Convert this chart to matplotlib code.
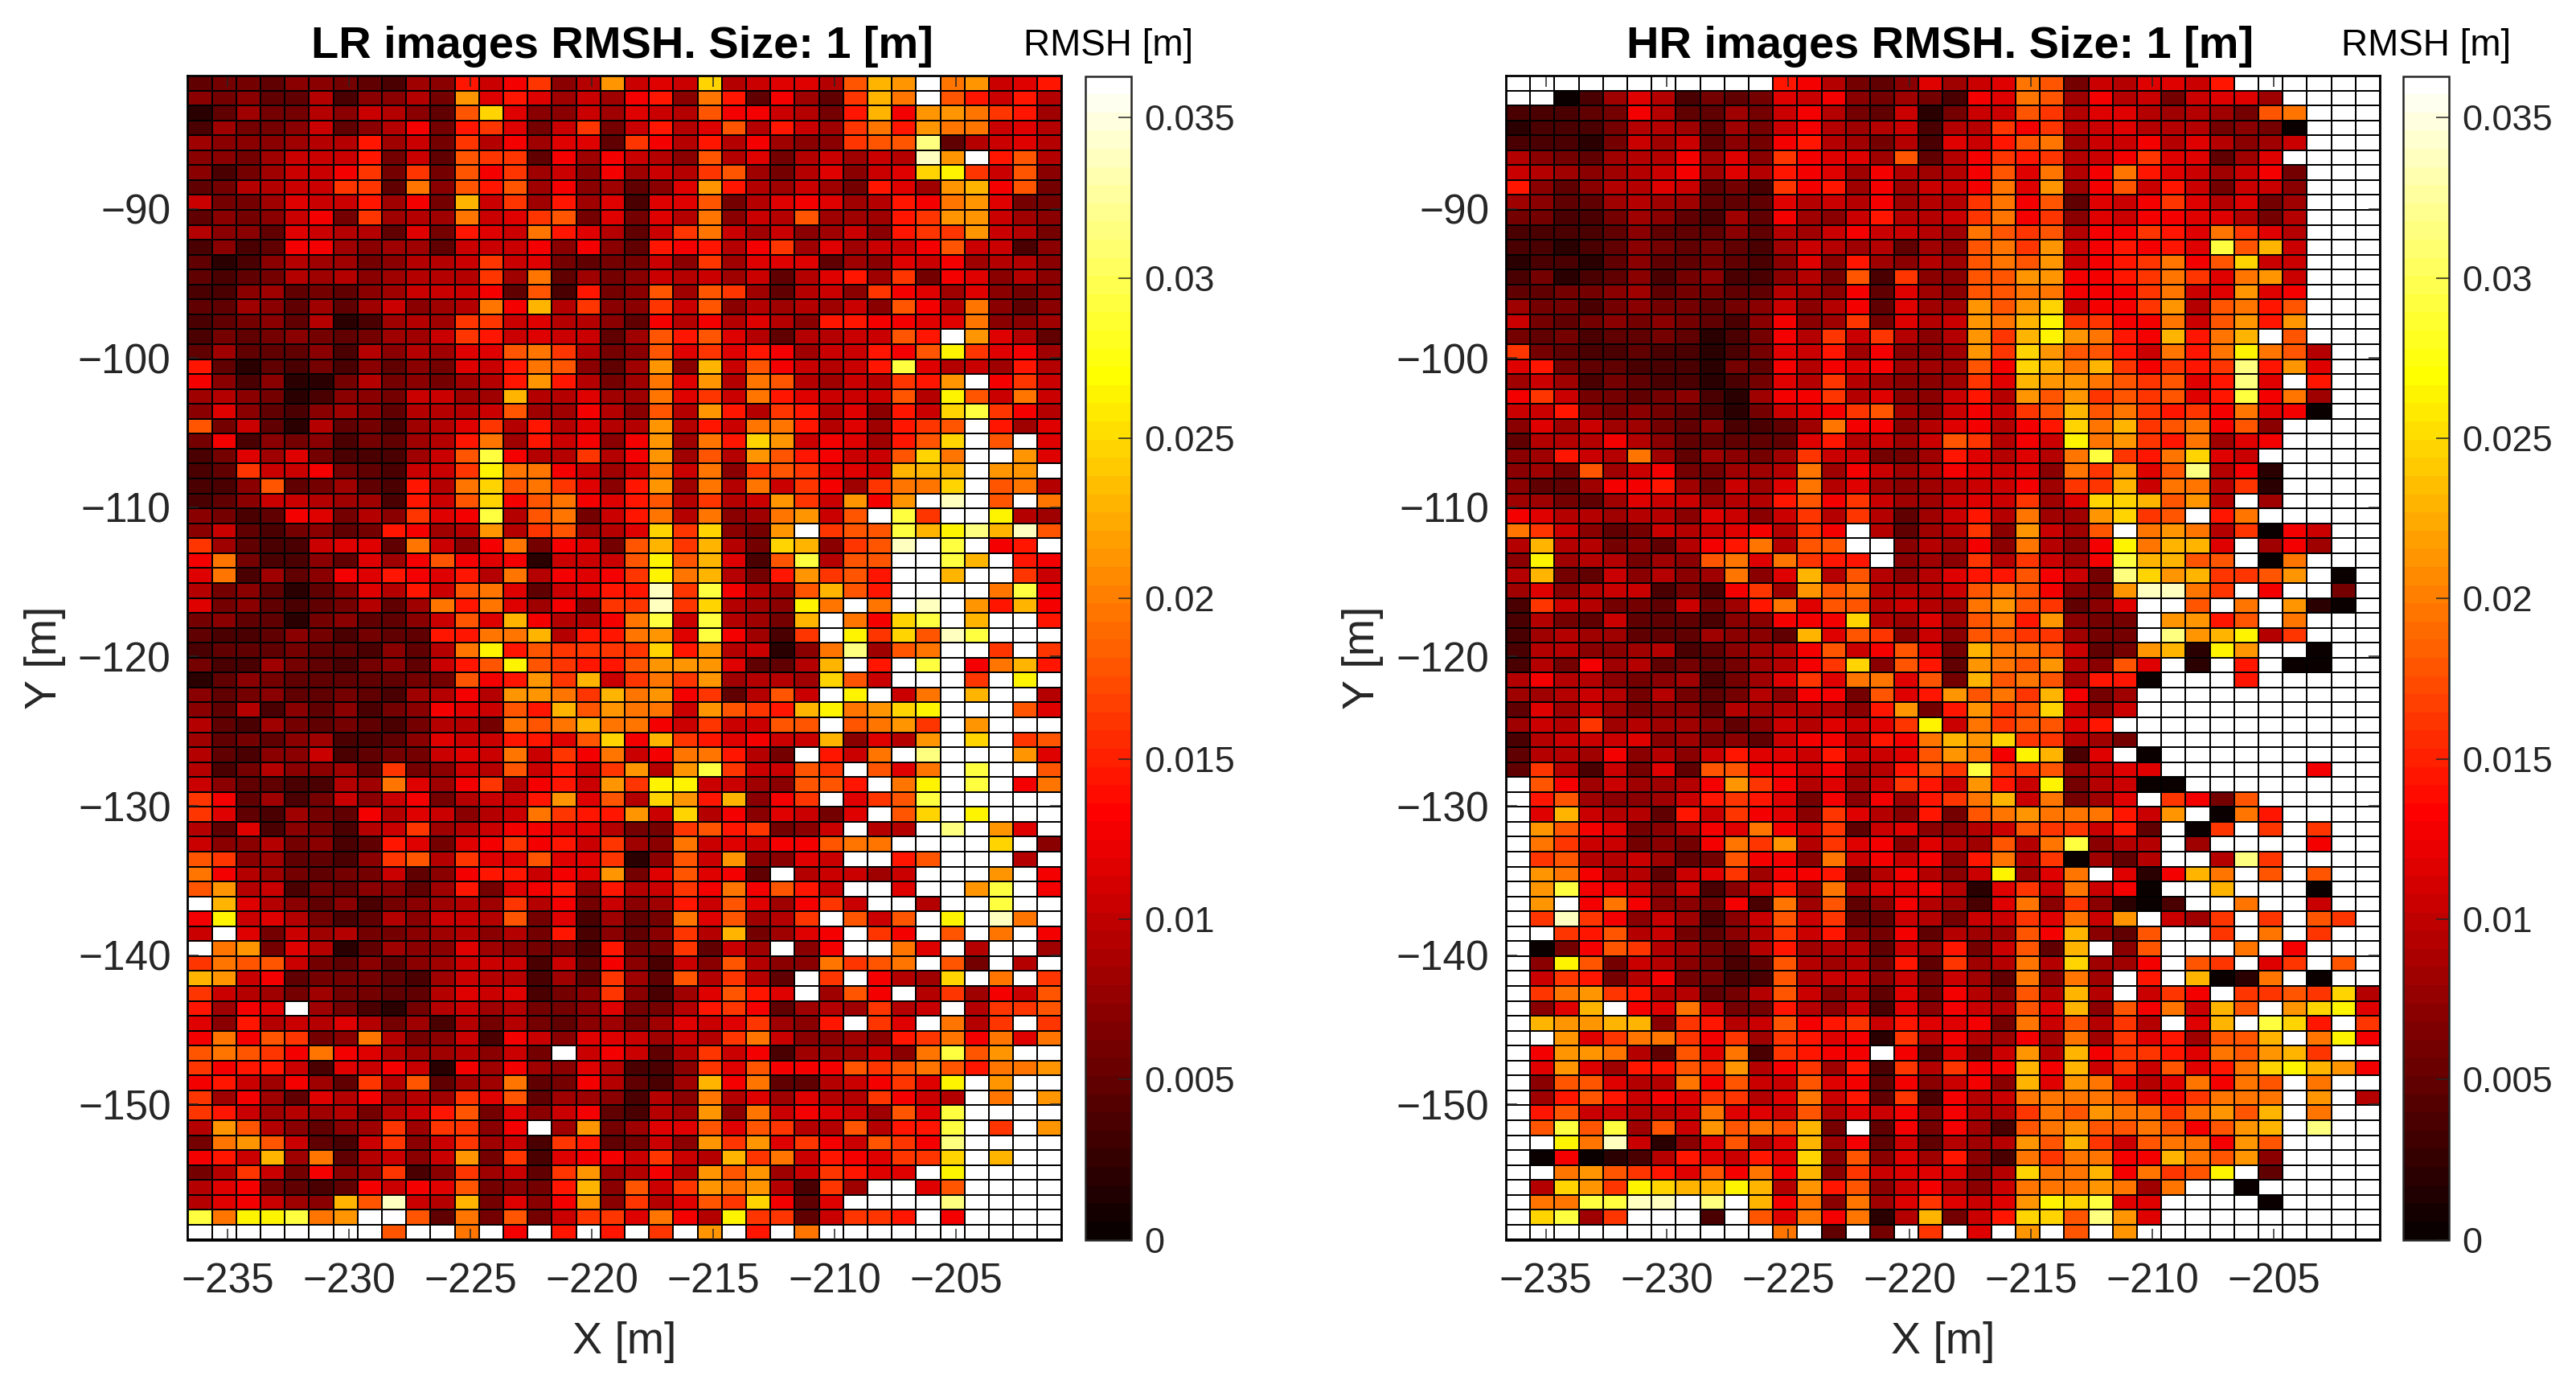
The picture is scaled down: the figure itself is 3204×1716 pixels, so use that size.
import matplotlib
matplotlib.use('Agg')
import matplotlib.pyplot as plt
import numpy as np

plt.rcParams['font.family'] = ['Liberation Sans', 'DejaVu Sans']

VMAX = 0.0363
CODES = '0123456789abcdefghijklw'
LEVELS = [1, 4, 7, 9, 11, 13, 15, 17, 19, 21, 23, 26, 29, 32, 35, 38, 41, 44, 47, 52, 56, 60, 64]

X_TICKS = [-235, -230, -225, -220, -215, -210, -205]
Y_TICKS = [-90, -100, -110, -120, -130, -140, -150]
CB_TICKS = [0, 0.005, 0.01, 0.015, 0.02, 0.025, 0.03, 0.035]
CB_LABELS = ['0', '0.005', '0.01', '0.015', '0.02', '0.025', '0.03', '0.035']

X_LEFT = -236.64
Y_TOP = -81.07

LR_ROWS = [
    '344355432 65b8ac57f 898h78997 dgfwef89b',
    '545337255 74f9b9686 ab5eb3a63 cgewdb8b7',
    '136447587 53dh95586 987daa874 bgaffecb6',
    '264458357 a4bc948c4 8b79d7b86 cebfee897',
    '6555677b6 84c7a6993 ca7b7a655 cddk37897',
    '5546888b4 83dcc3a6a 875d79478 687lfwbd7',
    '524688ac4 c4dac685a 687cd6479 589hic8d5',
    '347788cc3 e5dbd6a56 359fb7686 4b96fgad4',
    '8446988b6 a4g8c6b69 299d479a9 67baef944',
    '35458a4c6 76e89cd49 497e587d6 66bcff865',
    '755398773 94b98eb97 38ce86856 85bccf874',
    '2523aa656 63888a5a5 3bab7ac69 688ad8825',
    '312576645 778c89434 485c69993 6598a6775',
    '323476756 777c6e364 587868379 b6c4a9575',
    '225634356 888a3d2b4 5d6dc6378 5ca969545',
    '336536368 567eag7c5 5c8d57676 85da7e535',
    '234537126 76cc89775 3a7a7975b baa99e556',
    '243454346 68cb89883 6dbd97377 88dbwf973',
    '363335275 7699dec74 5d9c9ba68 8badic9a6',
    'b31324253 5498bed53 6f5g8da87 8bj9786b7',
    'a52511474 5467bfb74 6e9f7ed76 87cbfwac8',
    '675412554 8866g7796 6e9c8eb98 88d7id8e8',
    '595325653 7778d66a7 5d7fb7cb7 95b8hjca7',
    'd48317342 679c7b797 7f7b8eeb7 96bcdwb69',
    '4a2545243 67be6b8a5 af6ebhf8a 96bdhwdw9',
    '249694222 68dja77c7 af6d7fdba 88dhewwf9',
    '23c88a432 88cieea86 8e8e5cdc9 98gggwffw',
    '225d34632 b7ehdec95 bf6e7e8ca 6ceehwde7',
    '235887662 b8dhadea9 bd7c78fc8 fafwlwdwe',
    '5423a9475 c9aj7de48 be7e56ef8 dwjcwwi76',
    '58324534b a67f7cd67 9hch54fwc ddjgikgld',
    'c63228993 e85ae4a94 dgcg74hg5 cdlwjwabw',
    'ae4225396 ada9a1888 didg92dj7 ddwwjgwba',
    '9e2635a9b a9b7e7a9a cieg74bfc dbwwgwwc8',
    '745313597 b8de9389b blcja76dg dbwwwweja',
    '945323473 6ebe96a5c clch765ie wewlwfbga',
    '453314533 58d9ga77a ej8j764gw eahjwgwwb',
    '322354243 3bbeeg7bb ef9ja62cw ichdljwww',
    '233343325 37eibdccc chbf7815e k6dewwcwc',
    '422643245 38bdidcbb dfff9337g wbwjwaegb',
    '135433333 44dabfcg8 cecf6776h d8wwwcwiw',
    '534533432 67a7ffecg efac37d8w iw8ewgww7',
    '537253524 5a98dbgdf ee8fdcbgi efhiwwwd9',
    '732643432 4774edege ea8c88ddw defcwfwww',
    '634356223 5988bb9dh agcb9a88g 597fwhwcd',
    '732558234 4898e8cae 8aeeb74wb 8ewkwwwf9',
    '72475563c 4587d8b8c f7fjc88dc wd9ewjwwd',
    '85332276e 96ac7ab8f cii8865dd bweiwjwae',
    'ca3624858 a4788bf9d 7hfbg5acw 9cdjwwwww',
    'c932643a7 98578ecbb f8h7a5984 9wdhwiwww',
    '739254278 c678aa997 44cdbc458 w77wkwf9w',
    '85574523b 949acab8c 65e898aad eewwwwhw5',
    'dc563325c d7c99d99c 15d8f5598 wwbdwww7w',
    'ea7643448 35abb8a9f 49d9a3w78 868wwwfwa',
    'df7824355 36b49ab5b 78caeadb8 ww9wwfjwa',
    'wg9753524 5676c7a48 56b8d96ac 8ww7wwjww',
    'ai8974237 5887d4926 34e9d67cw d8dwiwlew',
    '8w9486744 567574b25 35c7g469a wcawdwewa',
    'wef497136 55965442b 44c386w5a wwe9w7ww6',
    'cedd84353 56888283a 5285d755e cdewd4w7w',
    'gf8a34443 26877263c 63d7c73wc wa76hwewc',
    'c87646443 37989245c 5269db9w6 daw7c6a8d',
    'b6a9w6421 478674459 447bca367 6c78w7ccd',
    '95b787974 627474356 46989c65b wc9we7cwc',
    'aeadc45e7 4582a8599 8687ce855 65bceae9e',
    'dedcaea97 667584w8a 837c8a266 685ejdfww',
    'cabb8298a 81a6a6597 225c9daaa dcdedbeef',
    'ab86a63c7 d366e34a7 326gae337 8ac9iwfww',
    'c6a6397a6 76c9d3665 275e79697 7ca87wewf',
    'cb8676747 8bd4958a3 276f5e8a9 86d9jwwww',
    '7fd75356c 6cc5aw6f4 699d9dc77 d7bbjwcwf',
    '4efd8328c 58c682cb3 485fcf9ca 8dcakwwww',
    'ab8g6e378 58f4c29aa 8c87gce8b a9cchwgww',
    '47c84a56c 25c683cf6 7a7fdf68c b99wiwwww',
    '79a4323a8 a9d454bg5 d8cfef72c 6ww9dwwww',
    '79a865gdl 87g495af5 c79dcha39 wwwwkwwww',
    'jeiijefww d3e4d48cc 9ea7icc38 ccbwawwww',
    'wwwwwwwwd wwewawbwb wcwfwbwew wwwwwwwww',
]

HR_ROWS = [
    'wwwwwwwww wwba74359 689ed4879 98bwwwwww',
    'ww0269724 3498a5464 2a9ed6a78 48996wwww',
    '22234a733 648a74381 488dc7997 6764dewww',
    '122247763 648a76782 77cac7897 774540www',
    '222148683 54ab76472 98bde688a 797568www',
    '7543677a6 95ca996d3 7acbc78ac 99369wwww',
    '8765678a6 97ba96a76 7ad9e7aeb 9868a4www',
    'b53577983 42cab6a68 8ae9f6ad8 b84885www',
    '653367663 339787a67 7cead398a c97946www',
    '442246532 63a658b77 8ceac598a a99747www',
    '222235333 53768a887 6edcd7aac b9ec97www',
    '221235434 326876736 5decf8aba b9jdg8www',
    '122135334 32595b657 6dedf8abc eadh88www',
    '241235245 22574d2c5 5ddffaabc ec9ef8www',
    '334456344 33765a396 5ddeeaaac e89f9awww',
    '644245443 45857a396 6fdfh8aac f7debdwww',
    '843454543 25a56c497 8fegiccaa e8dfbfwww',
    '434233431 24a7c8c75 7fcgifeba gbegwdwww',
    'c43223221 2498b6a55 6fchfddb8 ebeied7ww',
    '9b4332221 43a7a9a66 6dahgegca cbckbf9ww',
    '686243221 2497c7655 6c9gffedc d9bk9wbww',
    'ac8443452 16aac7955 8b7fdfcdc d9bjae6ww',
    '88b545432 1489acd65 8a8cdgdec bcae9a0ww',
    '596866435 2236eaa57 9a7abhegc dead5wwww',
    '3777a7533 3339b7868 dc7a8iefc be69awwww',
    '56b87e636 546c88446 b9797ejcb eh98wwwww',
    '564d68a44 667e6a867 a9895ecf9 dk7a1wwww',
    '5336aab64 869e79656 788a6ccg8 ee7c1wwww',
    '664369886 77bdac866 898c69hhg df7w6wwww',
    'a97767759 858c7c736 8b7e66fhc dwbewwwww',
    'ec8534878 9a7caw736 7c5f86dwe fe7c0a8ww',
    '7g774537a be7ddww57 6a5e75aie gg9w6a6ww',
    '5i677465d e9ecbbw56 5c7c86ajg gddw0ewww',
    '7g4385756 e59g7d757 9bbda84kh fgccdfw0w',
    '695788242 ac6fde777 8deda54fl lecwaww4w',
    '2c8744384 6be9dd787 6efdc359w wdwewf10w',
    '274383332 55aaah769 6debf544w ffbdwewww',
    '267663336 553g9dc58 5ddcc644w kfgi7cwww',
    '277556723 567ad8ad9 4geed834f g1ifww0ww',
    '274a67343 467ach5db 3fedf75d9 w1wbw00ww',
    '7a7754562 469c9ee9d 4gded6bb0 wwwbwwwww',
    '667874743 475aa4d9b fdecga46w wwwwwwwww',
    '396864553 767775bf4 bfcdh858w wwwwwwwww',
    '687c67665 3587989ci 8ecdd9bww wwwwwwwww',
    '278889564 538aa7bae gfhcc764w wwwwwwwww',
    '3776a5758 b998b889d feaig29w0 wwwwwwwww',
    '3c728493d daa8a67bd cjccd6799 wwwwwwaww',
    'wda68667a fca7968cb 8fb8i4780 0wwwwwwww',
    'wbd65568b cb94a5a6b ceg8e469w ca4dwwwww',
    'w9g8773b8 ca95c975b 4defeeeb8 fw0ebwwww',
    'wfda9457a 9ea8c3895 578dcc8b3 w0cwcwcww',
    'wec88454a ecf7c9a59 76d7ej577 w6wwwwaww',
    'wcd778634 daa5e8a8a 5be7c0637 ww7kcwwww',
    'wfea77389 c6aab37a7 58i69ew91 agewdwdww',
    'wfjaa8582 58b6e799a 719c8e8a0 wwgwww0ww',
    'wfwaea554 a2e6d35a7 629e5c510 2wweww8ww',
    'wclca5862 58d8c3387 488c9e8fw 86cwcwdcw',
    'wwcbd7843 57c8b54a3 766dag53d wwcwewcww',
    'w04adc764 37b677386 b48d3gw5d wwwewawww',
    'w5id48754 23d7674b3 c67e7h66a wdcw9cwdw',
    'w8cb47a44 22d788584 863e5e6wb wg01ew0ww',
    'wcefcb773 47d857394 a75d7g7w8 cawccdch7',
    'w59gwa9e8 44b758295 a87d9g5da e8gdwfhi9',
    'wgffgg5cb 78dabc8b9 9a4e8d7c7 w9gwjhbwc',
    'wwf9ceeca c6cb9a1c7 a76a6e6c9 b6ddgweia',
    'waffe73d9 e2cbaawa3 948f7gacc b9edfgcww',
    'w9f96bbdc f7ac6b2c7 caagag8c8 d9behigfa',
    'w5dd977ea d88d9a3a5 8a5g9fe97 9eaedweww',
    'w6bdb8a9c c79e8b3c2 a78eeeed9 aceeewfw7',
    'wbd88778e 998d798a5 a77cedfee cefdgweww',
    'wdjdj6d8f dedg4w3a4 a62defdde dadfgwkww',
    'wwiel8159 d79g6a383 767fdgc8d eeafdwwww',
    'w0a0127b9 8b9h5d596 b52eceeaa gedf5wwww',
    'wwefdcb9d aeag5c899 957heegae cdiw3wwww',
    'w7hfcihgg ig7fbd58a 758eeefe6 eww0wwwww',
    'weejjllwk wgae5e69c 989fihj99 wwww0wwww',
    'whj6cwww2 wd9eae17g 48bhhdkf9 wwwwwwwww',
    'wwwwwwwww wwew3w4wc w9wfwdwfw wwwwwwwww',
]

W, H = 3205, 1716


def rows_to_values(rows):
    table = dict(zip(CODES, LEVELS))
    out = []
    for row in rows:
        out.append([(table[c] - 0.5) / 64 * VMAX for c in row.replace(' ', '')])
    return np.array(out)


def px_axes(fig, x0, y0, x1, y1):
    return fig.add_axes([x0 / W, 1 - y1 / H, (x1 - x0) / W, (y1 - y0) / H])


def draw_panel(fig, rows, title, x0, cb_x0):
    ax = px_axes(fig, x0, 94, x0 + 1087, 1541.5)
    z = rows_to_values(rows)
    xe = X_LEFT + np.arange(z.shape[1] + 1)
    ye = Y_TOP - np.arange(z.shape[0] + 1)
    mesh = ax.pcolormesh(xe, ye, z, cmap=plt.get_cmap('hot', 64), vmin=0, vmax=VMAX,
                         edgecolors='k', linewidth=1.25)
    ax.set_xlim(xe[0], xe[-1])
    ax.set_ylim(ye[-1], ye[0])
    ax.set_xticks(X_TICKS)
    ax.set_yticks(Y_TICKS)
    ax.tick_params(direction='in', top=True, right=True, length=10, width=1.1,
                   color='#262626', labelcolor='#262626', labelsize=37)
    ax.tick_params(axis='x', pad=20)
    ax.tick_params(axis='y', pad=15)
    for s in ax.spines.values():
        s.set_linewidth(2)
        s.set_color('k')
    ax.set_xlabel('X [m]', fontsize=40, color='#262626', labelpad=18)
    ax.set_ylabel('Y [m]', fontsize=40, color='#262626', labelpad=11)
    ax.set_title(title, x=0.497, fontsize=40.3, fontweight='bold', color='k', pad=16)

    cax = px_axes(fig, cb_x0, 94.5, cb_x0 + 57, 1541.5)
    cb = fig.colorbar(mesh, cax=cax)
    cb.set_ticks(CB_TICKS)
    cb.set_ticklabels(CB_LABELS)
    cax.tick_params(direction='in', length=11.5, width=1.1, color='#262626',
                    labelcolor='#262626', labelsize=32.5, pad=12)
    cb.outline.set_linewidth(1.8)
    cb.outline.set_edgecolor('#262626')
    cax.set_title('RMSH [m]', fontsize=33, color='k', pad=18.5)


fig = plt.figure(figsize=(W / 100, H / 100), dpi=100, facecolor='white')
draw_panel(fig, LR_ROWS, 'LR images RMSH. Size: 1 [m]', 233.5, 1350)
draw_panel(fig, HR_ROWS, 'HR images RMSH. Size: 1 [m]', 1873, 2989)
fig.savefig('out.png', dpi=100)
